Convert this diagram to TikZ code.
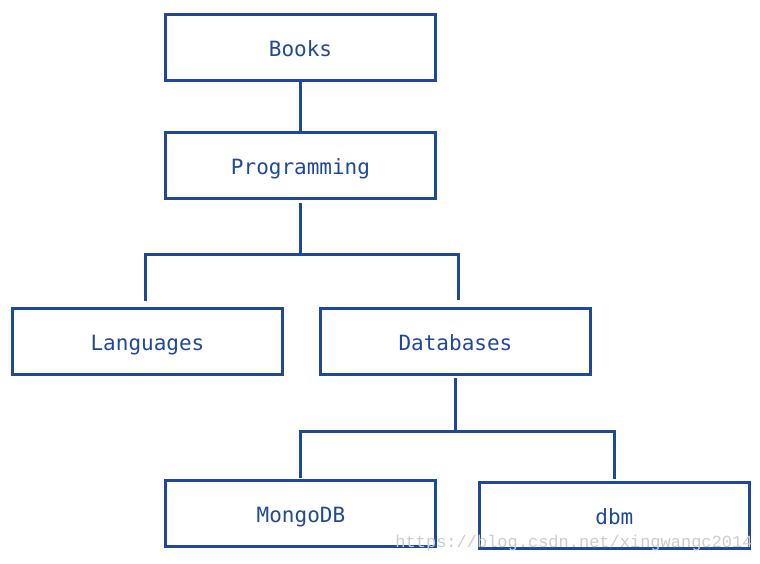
\documentclass[tikz,border=0pt]{standalone}
\usepackage{fontspec}
\setmonofont{DejaVu Sans Mono}
\newfontfamily\markfont{Liberation Mono}
\usepackage{xcolor}
\usepackage{tikz}
\usetikzlibrary{shapes.geometric, arrows}
\definecolor{treeblue}{RGB}{31,73,152}
\tikzstyle{box} = [rectangle, inner sep = 0.2cm, minimum width = 270pt, minimum height = 66pt, text height = 20pt, text depth = 3pt, text centered, draw = treeblue, line width = 3pt, text = treeblue, font = \ttfamily\fontsize{21}{24}\selectfont]
\tikzstyle{link} = [draw = treeblue, line width = 3pt]
\tikzstyle{watermark} = [text = gray!40, font = \markfont\fontsize{17}{20}\selectfont]

\begin{document}
\begin{tikzpicture}[x = 1pt, y = -1pt]
	\useasboundingbox (0,0) rectangle (760,563);
	\node (books)[box] at (300.5,47.5){Books};
	\node (prog)[box, below of = books, yshift = -90pt]{Programming};
	\node (lang)[box, below of = prog, xshift = -153pt, yshift = -147.5pt]{Languages};
	\node (data)[box, right of = lang, xshift = 279.5pt]{Databases};
	\node (mongo)[box, below of = data, xshift = -154.5pt, yshift = -143.5pt]{MongoDB};
	\node (dbm)[box, right of = mongo, xshift = 285pt, yshift = -2pt]{dbm};
	
	\draw [link] (books) -- (prog);
	\draw [link, shorten <= 3pt, shorten >= 6pt] (prog.south) -- ++(0,54) -| ([xshift = -2.5pt]lang.north);
	\draw [link, shorten <= 3pt, shorten >= 7pt] (prog.south) -- ++(0,54) -| ([xshift = 3.5pt]data.north);
	\draw [link, shorten <= 2pt, shorten >= 1.5pt] (data.south) -- ++(0,55) -| (mongo.north);
	\draw [link, shorten <= 2pt, shorten >= 2pt] (data.south) -- ++(0,55) -| (dbm.north);
	
	\node (mark)[watermark] at (574,543){https://blog.csdn.net/xingwangc2014};
\end{tikzpicture}
\end{document}
